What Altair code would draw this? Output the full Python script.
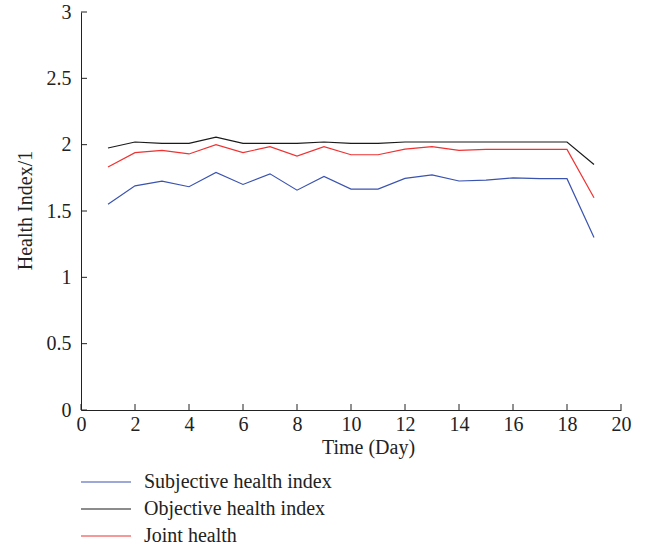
import altair as alt
import pandas as pd

days = list(range(1, 20))
subjective = [1.55, 1.69, 1.725, 1.683, 1.79, 1.70, 1.78, 1.657, 1.76, 1.665,
              1.665, 1.746, 1.772, 1.726, 1.733, 1.75, 1.744, 1.744, 1.30]
objective = [1.975, 2.02, 2.01, 2.01, 2.056, 2.01, 2.01, 2.01, 2.02, 2.01,
             2.01, 2.02, 2.02, 2.02, 2.02, 2.02, 2.02, 2.02, 1.85]
joint = [1.832, 1.94, 1.957, 1.93, 2.0, 1.94, 1.985, 1.914, 1.985, 1.924,
         1.924, 1.967, 1.985, 1.957, 1.964, 1.964, 1.964, 1.964, 1.60]
series_names = ["Subjective health index", "Objective health index", "Joint health"]
series_colors = ["#3a53b0", "#1a1a1a", "#f03232"]
x_ticks = list(range(0, 21, 2))
y_ticks = [0, 0.5, 1, 1.5, 2, 2.5, 3]

rows = []
for name, vals in zip(series_names, [subjective, objective, joint]):
    for d, v in zip(days, vals):
        rows.append({"day": d, "value": v, "series": name})
df = pd.DataFrame(rows)
legend_df = pd.DataFrame({"series": series_names, "idx": list(range(len(series_names)))})

W, H = 540, 398
FONT = "Liberation Serif"
FS = 20

xscale = alt.Scale(domain=[0, 20], nice=False, zero=False)
yscale = alt.Scale(domain=[0, 3], nice=False)
cscale = alt.Scale(domain=series_names, range=series_colors)

lines = alt.Chart(df).mark_line(strokeWidth=1.2).encode(
    x=alt.X("day:Q", scale=xscale,
            axis=alt.Axis(title="Time (Day)", values=x_ticks, ticks=False,
                          labelPadding=4, grid=False, domainColor="#222",
                          labelFlush=False, titleX=287, titleY=43,
                          titleAlign="center", titleBaseline="alphabetic")),
    y=alt.Y("value:Q", scale=yscale,
            axis=alt.Axis(title="Health Index/1", values=y_ticks, ticks=False,
                          labelPadding=10, format="~g", grid=False,
                          domainColor="#222", titleX=-56, titleY=198,
                          titleAngle=270, titleBaseline="middle",
                          titleAlign="center")),
    color=alt.Color("series:N", scale=cscale, legend=None),
    detail="series:N",
)

xt = alt.Chart(pd.DataFrame({"t": x_ticks})).mark_rule(color="#222", strokeWidth=1).encode(
    x=alt.X("t:Q", scale=xscale), y=alt.value(H - 6), y2=alt.value(H))
yt = alt.Chart(pd.DataFrame({"t": y_ticks})).mark_rule(color="#222", strokeWidth=1).encode(
    y=alt.Y("t:Q", scale=yscale), x=alt.value(0), x2=alt.value(6))

leg_base = alt.Chart(legend_df).transform_calculate(ly="470 + 27 * datum.idx")
leg_lines = leg_base.mark_rule(strokeWidth=1.2).encode(
    x=alt.value(0), x2=alt.value(50),
    y=alt.Y("ly:Q", scale=None, axis=None),
    color=alt.Color("series:N", scale=cscale, legend=None),
)
leg_text = leg_base.mark_text(align="left", baseline="middle", font=FONT,
                              fontSize=FS, color="#222").encode(
    x=alt.value(63),
    y=alt.Y("ly:Q", scale=None, axis=None),
    text="series:N",
)

chart = alt.layer(lines, xt, yt, leg_lines, leg_text).properties(
    width=W, height=H,
    autosize=alt.AutoSizeParams(type="none"),
    padding={"left": 81, "top": 12, "right": 25, "bottom": 138},
).configure_view(stroke=None).configure_axis(
    labelFont=FONT, titleFont=FONT, labelFontSize=FS, titleFontSize=FS,
    titleFontWeight="normal", labelColor="#222", titleColor="#222",
)

chart.save("out.html", embed_options={"renderer": "svg", "actions": False})
